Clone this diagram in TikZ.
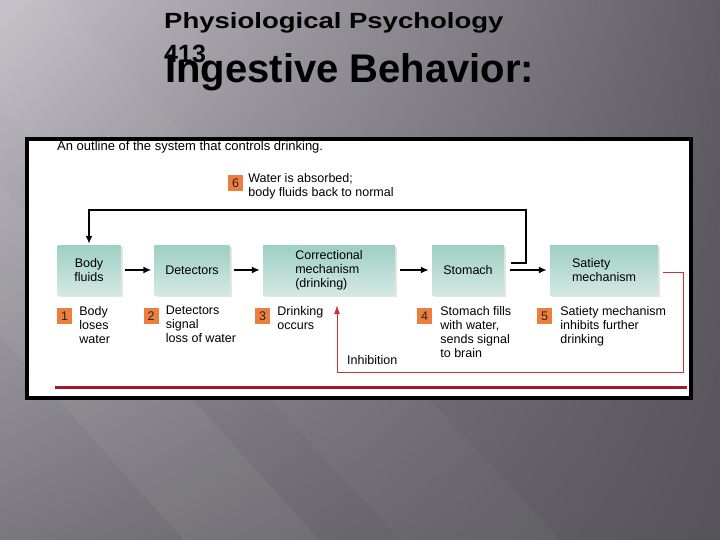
\documentclass[tikz,border=0pt]{standalone}
\usepackage{graphicx}
\usepackage{fontspec}
\setmainfont{Liberation Sans}
\usetikzlibrary{positioning, arrows.meta, shadows, shadings}

\definecolor{boxteal}{HTML}{9ECFC4}
\definecolor{boxpale}{HTML}{D4E8E3}
\definecolor{steporange}{HTML}{EE7E3E}
\definecolor{inhibred}{HTML}{C8323E}
\definecolor{barred}{HTML}{A3182C}
\definecolor{slideul}{HTML}{C4C2C8}
\definecolor{slidell}{HTML}{7A787E}
\definecolor{slideur}{HTML}{605E64}
\definecolor{slidelr}{HTML}{56545A}

\begin{document}
\begin{tikzpicture}[x=1pt, y=-1pt, >=Latex,
    stagebox/.style={top color=boxteal, bottom color=boxpale, minimum height=50pt,
        inner sep=2pt, align=center, font=\fontsize{12.5}{14}\selectfont,
        drop shadow={shadow xshift=2pt, shadow yshift=-2pt, opacity=0.2}},
    stepnum/.style={fill=steporange, minimum width=15pt, minimum height=16pt,
        inner sep=0pt, font=\fontsize{12.5}{14}\selectfont, text=black!85},
    steptext/.style={anchor=north west, inner sep=0pt, align=left,
        font=\fontsize{12.5}{14}\selectfont},
    flow/.style={->, line width=1.6pt, >={Latex[length=8pt, width=7pt]}},
    inhib/.style={->, inhibred, line width=0.9pt, >={Latex[length=9pt, width=6pt]}}]

    % background of the slide
    \useasboundingbox (0,0) rectangle (720,540);
    \shade[upper left=slideul, lower left=slidell, upper right=slideur,
           lower right=slidelr] (0,0) rectangle (720,540);
    \fill[white, opacity=0.05] (-302,0) -- (-167,0) -- (319,540) -- (184,540) -- cycle;
    \fill[white, opacity=0.03] (-100,0) -- (60,0) -- (560,540) -- (400,540) -- cycle;

    % titles
    \node[anchor=base west, inner sep=0pt, font=\bfseries\fontsize{22}{26}\selectfont]
        (course) at (164,29) {\scalebox{1.25}[1]{Physiological Psychology}};
    \node[anchor=base west, inner sep=0pt, font=\bfseries\fontsize{25}{28}\selectfont]
        (coursenum) at (164,63) {413};
    \node[anchor=base west, inner sep=0pt, font=\bfseries\fontsize{40}{44}\selectfont]
        (slidetitle) at (165,83) {Ingestive Behavior:};

    % framed figure
    \draw[line width=3.5pt, fill=white] (27,139) rectangle (691,398);
    \node[anchor=west, inner sep=0pt, font=\fontsize{13}{15}\selectfont]
        (caption) at (57,147) {An outline of the system that controls drinking.};

    % stages
    \node[stagebox, minimum width=63pt]  (body)    at (89,270)  {Body\\fluids};
    \node[stagebox, minimum width=75pt]  (detect)  at (192,270) {Detectors};
    \node[stagebox, minimum width=132pt, align=left] (correct) at (329,270)
        {Correctional\\mechanism\\(drinking)};
    \node[stagebox, minimum width=72pt]  (stomach) at (468,270) {Stomach};
    \node[stagebox, minimum width=108pt, align=left] (satiety) at (604,270)
        {Satiety\\mechanism};

    % numbered steps
    \node[stepnum] (n1) at (64.5,316) {1};
    \node[stepnum] (n2) at (151,316)  {2};
    \node[stepnum] (n3) at (262.5,316) {3};
    \node[stepnum] (n4) at (424.5,316) {4};
    \node[stepnum] (n5) at (544.5,316) {5};
    \node[stepnum] (n6) at (235.5,183) {6};
    \node[steptext, right=7pt of n1.north east, anchor=north west, yshift=2pt] (t1) {Body\\loses\\water};
    \node[steptext, right=7pt of n2.north east, anchor=north west, yshift=2pt] (t2) {Detectors\\signal\\loss of water};
    \node[steptext, right=7pt of n3.north east, anchor=north west, yshift=2pt] (t3) {Drinking\\occurs};
    \node[steptext, right=8pt of n4.north east, anchor=north west, yshift=2pt] (t4) {Stomach fills\\with water,\\sends signal\\to brain};
    \node[steptext, right=8pt of n5.north east, anchor=north west, yshift=2pt] (t5) {Satiety mechanism\\inhibits further\\drinking};
    \node[steptext, right=5pt of n6.north east, anchor=north west, yshift=2pt] (t6) {Water is absorbed;\\body fluids back to normal};

    % main chain
    \draw[flow, shorten <=4pt, shorten >=3pt] (body) -- (detect);
    \draw[flow, shorten <=4pt, shorten >=3pt] (detect) -- (correct);
    \draw[flow, shorten <=5pt, shorten >=3pt] (correct) -- (stomach);
    \draw[flow, shorten <=6pt, shorten >=3pt] (stomach) -- (satiety);

    % water absorbed: back to body fluids
    \coordinate (fbup) at (526,210);
    \draw[flow, shorten >=1pt] ([xshift=7pt, yshift=7pt]stomach.east) -| (fbup) -| (body.north);

    % inhibition loop
    \coordinate (inhcorner) at (683,372);
    \draw[inhib, shorten <=5pt] ([yshift=-2pt]satiety.east) -| (inhcorner)
        -| ([xshift=8pt, yshift=-10pt]correct.south);
    \node[anchor=west, inner sep=0pt, font=\fontsize{12.5}{14}\selectfont]
        (inhlabel) at (347,360) {Inhibition};

    % red rule under the figure
    \draw[barred, line width=3pt] (55,387) -- (687,387);
\end{tikzpicture}
\end{document}
